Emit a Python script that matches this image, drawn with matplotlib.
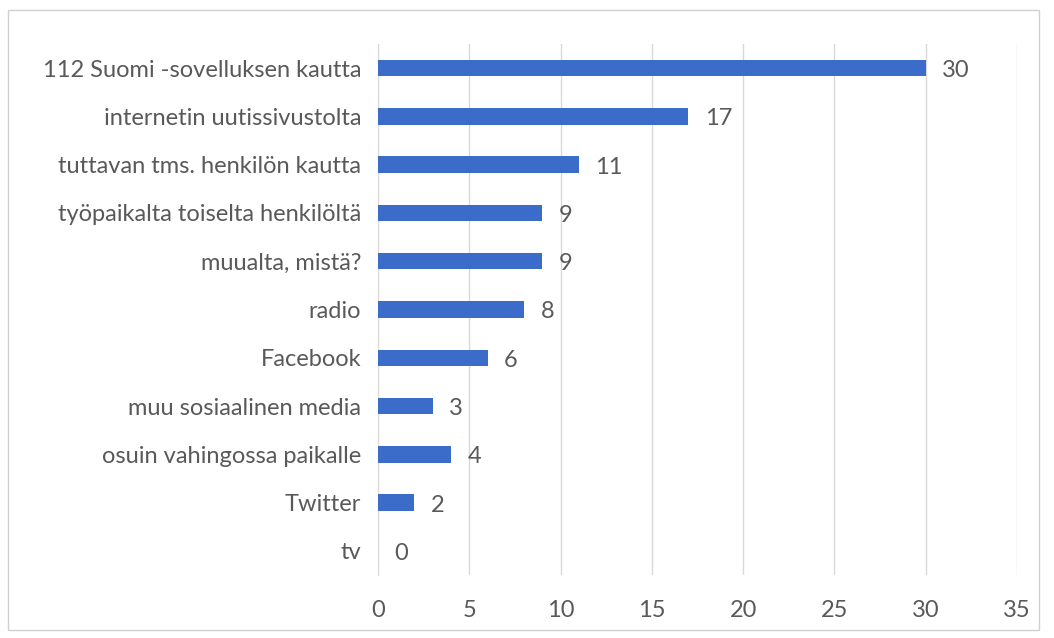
import matplotlib.pyplot as plt
from matplotlib.patches import Rectangle

categories = ['112 Suomi -sovelluksen kautta', 'internetin uutissivustolta',
              'tuttavan tms. henkilön kautta', 'työpaikalta toiselta henkilöltä',
              'muualta, mistä?', 'radio', 'Facebook', 'muu sosiaalinen media',
              'osuin vahingossa paikalle', 'Twitter', 'tv']
values = [30, 17, 11, 9, 9, 8, 6, 3, 4, 2, 0]
x_ticks = [0, 5, 10, 15, 20, 25, 30, 35]

plt.rcParams['font.family'] = ['Lato', 'DejaVu Sans']
text_color = '#595959'
fs = 17

fig = plt.figure(figsize=(10.54, 6.38), dpi=100)
ax = fig.add_axes([0.3586, 0.0987, 0.6063, 0.8323])

pos = list(range(len(categories)))
ax.barh(pos, values, height=0.34, color='#3b6cc9', zorder=3)
for p, v in zip(pos, values):
    ax.text(v + 0.9, p + 0.05, str(v), va='center', ha='left', fontsize=fs, color=text_color)

ax.set_yticks(pos)
ax.set_yticklabels(categories, fontsize=fs, color=text_color)
ax.set_ylim(len(categories) - 0.5, -0.5)
ax.set_xlim(0, 35)
ax.set_xticks(x_ticks)
ax.set_xticklabels([str(t) for t in x_ticks], fontsize=fs, color=text_color)
ax.tick_params(axis='y', length=0, pad=12)
ax.tick_params(axis='x', length=0, pad=18)
ax.grid(axis='x', color='#d9d9d9', linewidth=1, zorder=0)
for s in ['top', 'right', 'bottom']:
    ax.spines[s].set_visible(False)
ax.spines['left'].set_color('#d9d9d9')

# outer chart border
fig.patches.append(Rectangle((0.008, 0.012), 0.978, 0.972, transform=fig.transFigure,
                             fill=False, edgecolor='#d0d0d0', linewidth=1))

fig.savefig('out.png', dpi=100)
